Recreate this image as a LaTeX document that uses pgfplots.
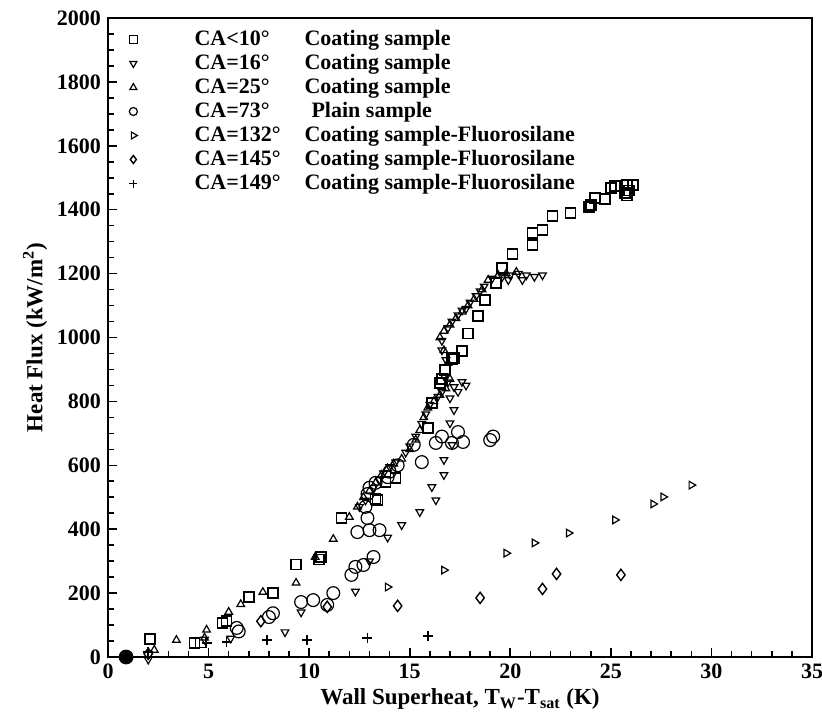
\documentclass[border=0pt]{standalone}
\usepackage{fontspec}
\setmainfont{Liberation Serif}
\usepackage{pgfplots}
\pgfplotsset{compat=1.18}
\begin{document}
\begin{tikzpicture}
\useasboundingbox (-54pt,-32.5pt) rectangle (357pt,328.5pt);
\begin{axis}[
  scale only axis, width=352pt, height=319.5pt,
  xmin=0, xmax=35, ymin=0, ymax=2000,
  xtick={0,5,...,35}, ytick={0,200,...,2000},
  minor x tick num=4, minor y tick num=3,
  xtick pos=bottom, ytick pos=left,
  tick align=inside,
  major tick length=4.5pt, minor tick length=3pt,
  axis line style={line width=1pt},
  every tick/.style={line width=0.8pt, black},
  clip=false,
  /pgf/number format/assume math mode=true,
  /pgf/number format/set thousands separator={},
  ticklabel style={font=\fontsize{11}{12}\selectfont\bfseries},
  xlabel={\bfseries Wall Superheat, T$_\mathbf{W}$-T$_\mathbf{sat}$ (K)},
  ylabel={\bfseries Heat Flux (kW/m$^\mathbf{2}$)},
  label style={font=\fontsize{11.5}{12}\selectfont},
  xlabel style={yshift=2pt},
  ylabel style={yshift=-2pt},
  legend cell align=left,
  legend style={at={(0.014,0.992)}, anchor=north west, draw=none, fill=none,
    font=\fontsize{11}{12}\selectfont\bfseries,
    nodes={text height=8pt, text depth=2pt, inner sep=1pt}},
  legend image code/.code={\draw[#1, only marks, mark size=2pt] plot coordinates {(0.16cm,0cm)}; \path[draw=none] (0cm,0cm) -- (1.2cm,0cm);},
]
\addplot[only marks, mark=square, mark size=2.5pt, line width=0.8pt] coordinates {
(2.1,56)(4.3,44)(4.6,46)(5.7,106)(5.9,112)(7.0,188)(8.2,200)(9.35,290)(10.5,305)(10.6,313)
(11.6,435)(13.3,495)(13.4,491)(13.8,548)(14.3,560)(15.9,717)(16.1,795)(16.5,858)(16.6,870)
(16.75,898)(17.1,933)(17.2,936)(17.6,958)(17.9,1012)(18.4,1067)(18.75,1117)(19.3,1170)
(19.6,1217)(20.1,1261)(21.1,1290)(21.1,1327)(21.6,1336)(22.1,1380)(23.0,1390)(23.9,1408)
(24.0,1415)(24.2,1437)(24.7,1433)(25.0,1468)(25.2,1475)(25.7,1452)(25.8,1445)(25.8,1477)
(25.9,1460)(26.1,1477)};
\addlegendentry{\makebox[55pt][l]{CA<10°}Coating sample}
\addplot[only marks, mark=triangle, mark options={rotate=180}, mark size=2.2pt, line width=0.6pt] coordinates {
(2.0,-8)(4.8,55)(6.1,58)(8.8,78)(9.6,140)(12.3,205)(13.0,300)(13.9,374)(14.6,413)(15.5,454)
(16.3,491)(16.1,532)(16.7,570)(16.7,617)(17.1,664)(17.0,732)(17.2,773)(17.2,845)(17.6,861)
(17.4,830)(17.0,810)(12.8,490)(13.2,530)(13.7,575)(14.3,610)(14.8,640)(15.3,690)(15.6,730)
(16.0,790)(16.6,830)(16.7,880)(16.8,930)(16.6,990)(16.9,1030)(17.4,1070)(17.8,1090)
(18.3,1130)(18.7,1160)(19.1,1185)(19.6,1190)(20.0,1195)(20.4,1200)(20.8,1195)(21.2,1190)
(21.6,1195)(19.9,1180)(20.6,1180)(12.5,470)(13.5,555)(14.0,595)(15.0,660)(15.8,760)
(16.4,815)(16.9,860)(16.6,960)(17.1,1050)(17.6,1085)(18.0,1110)(18.5,1145)(17.8,850)};
\addlegendentry{\makebox[55pt][l]{CA=16°}Coating sample}
\addplot[only marks, mark=triangle, mark size=2.2pt, line width=0.6pt] coordinates {
(2.3,22)(3.4,53)(4.9,85)(4.8,60)(6.0,141)(6.6,165)(7.7,203)(9.35,232)(10.3,313)(11.2,369)
(12.0,438)(12.4,470)(12.7,500)(13.0,520)(13.3,545)(13.6,570)(13.9,590)(14.2,605)(14.6,620)
(15.0,650)(15.3,680)(15.5,710)(15.7,750)(15.9,780)(16.2,800)(16.5,820)(16.8,840)(17.0,870)
(16.9,920)(16.7,960)(16.5,1000)(16.7,1020)(17.0,1040)(17.3,1060)(17.6,1080)(17.9,1100)
(18.2,1120)(18.6,1150)(18.9,1180)(19.4,1195)(19.8,1200)(20.3,1205)};
\addlegendentry{\makebox[55pt][l]{CA=25°}Coating sample}
\addplot[only marks, mark=o, mark size=3.2pt, line width=0.6pt] coordinates {
(6.4,91)(6.5,80)(8.2,137)(8.0,125)(9.6,172)(10.2,178)(10.9,163)(11.2,200)(12.1,257)(12.3,282)
(12.7,288)(13.2,313)(12.4,391)(13.0,397)(13.5,397)(12.8,470)(12.9,435)(13.3,545)(13.9,563)
(14.4,600)(15.2,664)(15.6,610)(16.3,670)(17.1,670)(17.4,704)(17.65,673)(19.0,679)(19.15,690)
(12.9,510)(13.0,530)(16.6,690)(14.0,580)};
\addlegendentry{\makebox[58.5pt][l]{CA=73°}Plain sample}
\addplot[only marks, mark=triangle, mark options={rotate=-90}, mark size=2.2pt, line width=0.6pt] coordinates {
(13.9,219)(16.7,272)(19.8,325)(21.2,357)(22.9,388)(25.2,429)(27.1,479)(27.6,501)(29.0,538)};
\addlegendentry{\makebox[55pt][l]{CA=132°}Coating sample-Fluorosilane}
\addplot[only marks, mark=diamond, mark size=2.8pt, line width=0.7pt] coordinates {
(2.0,10)(7.6,112)(10.9,157)(14.4,160)(18.5,185)(21.6,213)(22.3,260)(25.5,257)};
\addlegendentry{\makebox[55pt][l]{CA=145°}Coating sample-Fluorosilane}
\addplot[only marks, mark=+, mark size=2.5pt, line width=0.8pt] coordinates {
(2.0,15)(4.9,44)(5.9,47)(7.9,53)(9.9,53)(12.9,59)(15.9,66)};
\addlegendentry{\makebox[55pt][l]{CA=149°}Coating sample-Fluorosilane}
\addplot[only marks, mark=*, mark size=3.5pt, forget plot] coordinates {(0.9,0)};
\end{axis}
\end{tikzpicture}
\end{document}
